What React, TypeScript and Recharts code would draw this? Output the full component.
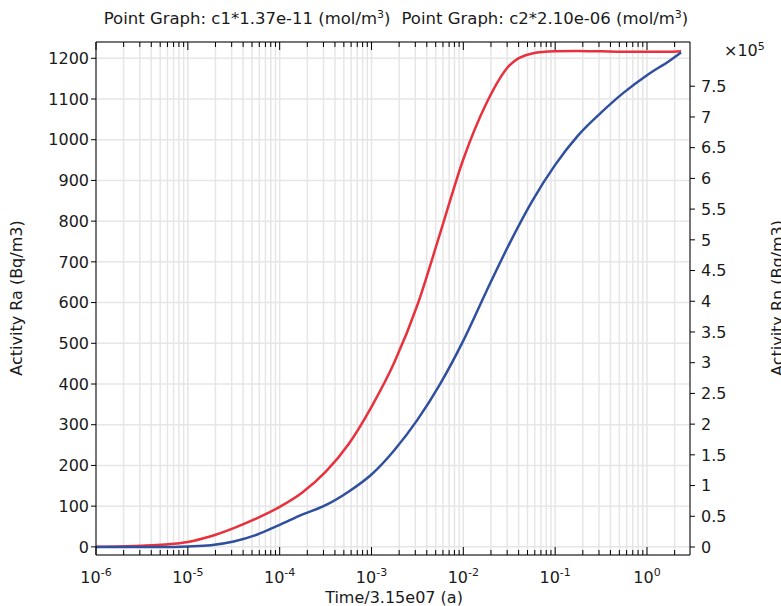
import { LineChart, Line, XAxis, YAxis, CartesianGrid } from "recharts"

const FONT = "DejaVu Sans, sans-serif"

// sample times (quarter decades, last point at end of run)
const times = [1e-6, 1.78e-6, 3.16e-6, 5.62e-6, 1e-5, 1.78e-5, 3.16e-5, 5.62e-5, 1e-4, 1.78e-4, 3.16e-4, 5.62e-4, 1e-3, 1.78e-3, 3.16e-3, 5.62e-3, 1e-2, 1.78e-2, 3.16e-2, 5.62e-2, 0.1, 0.178, 0.316, 0.562, 1, 1.78, 2.35]

// red: c1 (left axis, Bq/m3)
const redValue = [0, 1, 3, 6, 12, 26, 46, 70, 98, 134, 184, 252, 344, 454, 594, 772, 952, 1089, 1182, 1212, 1217, 1218, 1217, 1216, 1216, 1216, 1217]

// blue: c2 (right axis, x10^5)
const blueValue = [0, 0, 0, 0, 0.01, 0.03, 0.09, 0.2, 0.36, 0.53, 0.68, 0.9, 1.18, 1.58, 2.07, 2.66, 3.36, 4.16, 4.93, 5.63, 6.22, 6.7, 7.07, 7.4, 7.68, 7.92, 8.05]

const majorExp = [-6, -5, -4, -3, -2, -1, 0]
const minorMult = [2, 3, 4, 5, 6, 7, 8, 9]
const leftTicks = [0, 100, 200, 300, 400, 500, 600, 700, 800, 900, 1000, 1100, 1200]
const rightTicks = [0, 0.5, 1, 1.5, 2, 2.5, 3, 3.5, 4, 4.5, 5, 5.5, 6, 6.5, 7, 7.5]

const X_DOMAIN: [number, number] = [1e-6, 2.94]
const majorTicks = majorExp.map((e) => Math.pow(10, e))
const allTicks: number[] = []
majorExp.forEach((e) => {
  allTicks.push(Math.pow(10, e))
  minorMult.forEach((m) => {
    const v = m * Math.pow(10, e)
    if (v <= X_DOMAIN[1]) allTicks.push(v)
  })
})

const redData = times.map((t, i) => ({ t, v: redValue[i] }))
const blueData = times.map((t, i) => ({ t, v: blueValue[i] }))

const isMajor = (v: number) => majorTicks.some((m) => Math.abs(v / m - 1) < 1e-6)

function BottomTick(props: any) {
  const { x, y, payload } = props
  const major = isMajor(payload.value)
  const exp = Math.round(Math.log10(payload.value))
  return (
    <g>
      <line x1={x} x2={x} y1={y} y2={y - (major ? 8 : 5)} stroke="#000" strokeWidth={1} />
      {major && (
        <text x={x} y={y + 28} textAnchor="middle" fontSize={16} fill="#1a1a1a" fontFamily={FONT}>
          10<tspan dy={-7} fontSize={11}>{exp}</tspan>
        </text>
      )}
    </g>
  )
}

function TopTick(props: any) {
  const { x, y, payload } = props
  const major = isMajor(payload.value)
  return <line x1={x} x2={x} y1={y} y2={y + (major ? 8 : 5)} stroke="#000" strokeWidth={1} />
}

export default function App() {
  const tickStyle = { fontSize: 16, fill: "#1a1a1a", fontFamily: FONT }
  return (
    <div style={{ position: "absolute", left: 0, top: 0, width: 781, height: 606, background: "#fff" }}>
      <LineChart width={781} height={606} margin={{ top: 0, right: 0, bottom: 0, left: 0 }}>
        <CartesianGrid xAxisId="x" yAxisId="left" stroke="#e6e6e6" strokeWidth={1.5} />
        <XAxis
          xAxisId="x"
          dataKey="t"
          type="number"
          scale="log"
          domain={X_DOMAIN}
          allowDataOverflow
          ticks={allTicks}
          interval={0}
          height={51}
          tickSize={0}
          tickMargin={0}
          tickLine={false}
          tick={<BottomTick />}
          axisLine={{ stroke: "#000" }}
        />
        <XAxis
          xAxisId="xt"
          orientation="top"
          dataKey="t"
          type="number"
          scale="log"
          domain={X_DOMAIN}
          allowDataOverflow
          ticks={allTicks}
          interval={0}
          height={42}
          tickSize={0}
          tickMargin={0}
          tickLine={false}
          tick={<TopTick />}
          axisLine={{ stroke: "#000" }}
        />
        <YAxis
          yAxisId="left"
          type="number"
          domain={[-20, 1240]}
          allowDataOverflow
          ticks={leftTicks}
          interval={0}
          width={96}
          tickSize={5}
          tickMargin={2}
          tick={tickStyle}
          tickLine={{ stroke: "#000" }}
          axisLine={{ stroke: "#000" }}
        />
        <YAxis
          yAxisId="right"
          orientation="right"
          type="number"
          domain={[-0.13, 8.22]}
          allowDataOverflow
          ticks={rightTicks}
          interval={0}
          width={91}
          tickSize={5}
          tickMargin={6}
          tick={tickStyle}
          tickLine={{ stroke: "#000" }}
          axisLine={{ stroke: "#000" }}
          tickFormatter={(v: number) => String(v)}
        />
        <Line
          xAxisId="x"
          yAxisId="left"
          data={redData}
          dataKey="v"
          type="monotone"
          stroke="#e8313c"
          strokeWidth={2.5}
          dot={false}
          isAnimationActive={false}
        />
        <Line
          xAxisId="x"
          yAxisId="right"
          data={blueData}
          dataKey="v"
          type="monotone"
          stroke="#2f4f9f"
          strokeWidth={2.5}
          dot={false}
          isAnimationActive={false}
        />
      </LineChart>
      <svg width={781} height={606} style={{ position: "absolute", left: 0, top: 0, pointerEvents: "none" }}>
        <text x={396} y={24} textAnchor="middle" fontSize={16.5} fill="#1a1a1a" fontFamily={FONT}>
          Point Graph: c1*1.37e-11 (mol/m<tspan dy={-6} fontSize={11}>3</tspan>
          <tspan dy={6}>)</tspan>
          <tspan dx={11}>Point Graph: c2*2.10e-06 (mol/m</tspan>
          <tspan dy={-6} fontSize={11}>3</tspan>
          <tspan dy={6}>)</tspan>
        </text>
        <text x={394} y={603} textAnchor="middle" fontSize={16} fill="#1a1a1a" fontFamily={FONT}>
          Time/3.15e07 (a)
        </text>
        <text
          x={0}
          y={0}
          transform="translate(22 298) rotate(-90)"
          textAnchor="middle"
          fontSize={16}
          fill="#1a1a1a"
          fontFamily={FONT}
        >
          Activity Ra (Bq/m3)
        </text>
        <text
          x={0}
          y={0}
          transform="translate(783 298) rotate(-90)"
          textAnchor="middle"
          fontSize={16}
          fill="#1a1a1a"
          fontFamily={FONT}
        >
          Activity Rn (Bq/m3)
        </text>
        <text x={724} y={56} fontSize={16} fill="#1a1a1a" fontFamily={FONT}>
          ×10<tspan dy={-6} fontSize={11}>5</tspan>
        </text>
      </svg>
    </div>
  )
}
